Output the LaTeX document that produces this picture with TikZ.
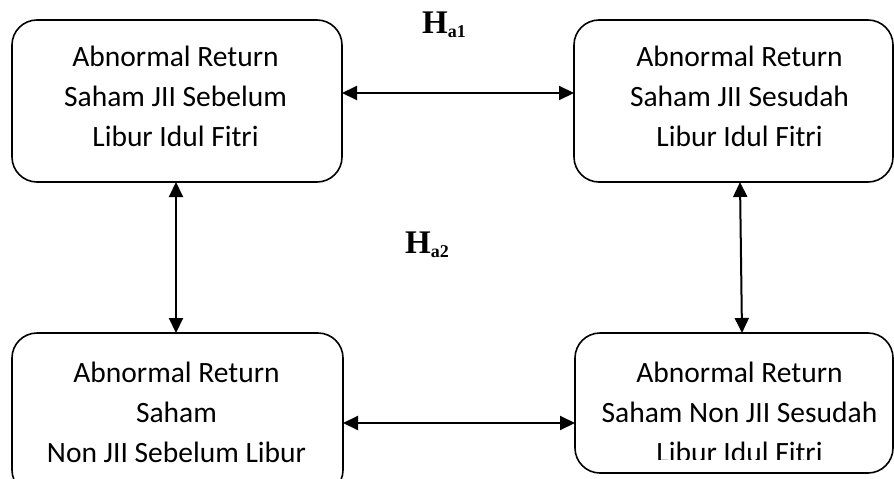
\documentclass[tikz,border=0pt]{standalone}
\usepackage{fontspec}
\setmainfont{Carlito}
\newfontfamily\hfont{Liberation Serif}
\usetikzlibrary{arrows.meta}
\begin{document}
\begin{tikzpicture}[x=1pt,y=-1pt,
  box/.style={draw, line width=1.6pt, rounded corners=25pt, inner sep=0pt, outer sep=0pt},
  txt/.style={align=center, font=\fontsize{29.5}{40}\selectfont, inner sep=0pt, anchor=north},
  hyp/.style={anchor=base west, inner sep=0pt, font=\hfont\bfseries},
  conn/.style={line width=2pt, {Triangle[length=15pt,width=14pt]}-{Triangle[length=15pt,width=14pt]}}]
\useasboundingbox (0,0) rectangle (894,479);
% boxes
\node[box, minimum width=330pt, minimum height=162pt] (tl) at (177,101) {};
\node[box, minimum width=319pt, minimum height=162pt] (tr) at (733.5,101) {};
\node[box, minimum width=331pt, minimum height=162pt] (bl) at (177.5,414) {};
\node[box, minimum width=318pt, minimum height=140pt] (br) at (734,403) {};
% texts
\node[txt] (tlt) at (175.5,46) {Abnormal Return\\Saham JII Sebelum\\Libur Idul Fitri};
\node[txt] (trt) at (739.5,46) {Abnormal Return\\Saham JII Sesudah\\Libur Idul Fitri};
\node[txt] (blt) at (176.5,362) {Abnormal Return\\Saham\\Non JII Sebelum Libur};
\node[txt] (brt) at (739.5,362) {Abnormal Return\\Saham Non JII Sesudah\\Libur Idul Fitri};
\fill[white] (630,459.5) rectangle (850,471.5);
% hypotheses
\node[hyp] (h1) at (422,33) {\fontsize{33}{35}\selectfont H\raisebox{-4pt}{\fontsize{18}{18}\selectfont a1}};
\node[hyp] (h2) at (405,253) {\fontsize{33}{35}\selectfont H\raisebox{-4pt}{\fontsize{18}{18}\selectfont a2}};
% connectors
\draw[conn] ([yshift=8pt]tl.east) -- ([yshift=8pt]tr.west);
\draw[conn] ([yshift=-9pt]bl.east) -- ([yshift=-20pt]br.west);
\draw[conn] ([xshift=-1pt]tl.south) -- ([xshift=-1.5pt]bl.north);
\draw[conn] ([xshift=6.5pt]tr.south) -- ([xshift=8pt]br.north);
\end{tikzpicture}
\end{document}
